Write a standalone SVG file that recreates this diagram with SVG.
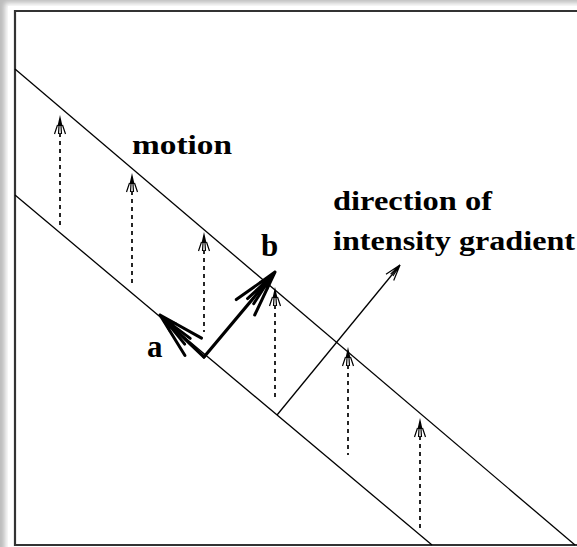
<svg xmlns="http://www.w3.org/2000/svg" width="577" height="547" viewBox="0 0 577 547">
<style>
.ln{stroke:#000;stroke-width:1.3;fill:none}
.dash{stroke:#000;stroke-width:1.7;stroke-dasharray:4 4;fill:none}
.thick{stroke:#000;stroke-width:3.2;fill:none;stroke-linecap:round;stroke-linejoin:round}
.frame{stroke:#333;stroke-width:2.2;fill:none}
.lbl{font-family:"Liberation Serif","Times New Roman",serif;font-weight:bold;fill:#000}
</style>
<defs>
<filter id="blur" x="-5%" y="-5%" width="110%" height="110%"><feGaussianBlur stdDeviation="2.5"/></filter>
<g id="smallHead">
<path d="M0,0 L-2.5,11 L2.5,11 Z" fill="#000"/>
<path d="M-2.5,10 L-5.5,19 M2.5,10 L5.5,19 M-1,11 L-1.5,19 M1,11 L1.5,19" stroke="#000" stroke-width="1.2" fill="none"/>
</g>
<g id="bigHead">
<path d="M0,0 L-18,-6 L-14,0 L-18,6 Z" fill="#000"/>
<path d="M0,0 L-46,-12 M0,0 L-46,12 M-6,0 L-38,-4 M-6,0 L-38,4" stroke="#000" stroke-width="3" stroke-linecap="round" fill="none"/>
</g>
<g id="thinHead">
<path d="M0,0 L-16,-5 M0,0 L-16,5 M0,0 L-13,-1.5 M0,0 L-13,1.5" stroke="#000" stroke-width="1.2" fill="none"/>
</g>
</defs>
<rect width="577" height="547" fill="#bcbcbc"/>
<rect x="5" y="3" width="620" height="600" fill="#fff" filter="url(#blur)"/>
<rect x="8" y="6" width="600" height="600" fill="#fff"/>
<g id="frame">
<path class="frame" d="M577,11 L15,11 L15,545 L577,545"/>
</g>
<g id="edges">
<line id="upper-edge" class="ln" x1="15" y1="69" x2="575" y2="545"/>
<line id="lower-edge" class="ln" x1="15" y1="195" x2="432" y2="545"/>
</g>
<g id="connectors">
<g id="motion-arrows">
<line class="dash" x1="60" y1="133" x2="60" y2="225"/><use href="#smallHead" transform="translate(60,115)"/>
<line class="dash" x1="132" y1="191" x2="132" y2="285"/><use href="#smallHead" transform="translate(132,173)"/>
<line class="dash" x1="204" y1="250" x2="204" y2="332"/><use href="#smallHead" transform="translate(204,232)"/>
<line class="dash" x1="275" y1="305" x2="275" y2="400"/><use href="#smallHead" transform="translate(275,287)"/>
<line class="dash" x1="348" y1="365" x2="348" y2="455"/><use href="#smallHead" transform="translate(348,347)"/>
<line class="dash" x1="420" y1="436" x2="420" y2="530"/><use href="#smallHead" transform="translate(420,418)"/>
</g>
<g id="gradient-arrow">
<line class="ln" x1="277" y1="415" x2="400" y2="265"/>
<use href="#thinHead" transform="translate(400,265) rotate(-50.6)"/>
</g>
<g id="vector-a">
<line class="thick" x1="204" y1="357" x2="165" y2="320"/>
<use href="#bigHead" transform="translate(160,315) rotate(-136.3)"/>
</g>
<g id="vector-b">
<line class="thick" x1="204" y1="357" x2="271" y2="277"/>
<use href="#bigHead" transform="translate(275,272) rotate(-50.1)"/>
</g>
</g>
<g id="label-motion"><text class="lbl" x="132" y="154" font-size="28" textLength="100" lengthAdjust="spacingAndGlyphs">motion</text></g>
<g id="label-direction">
<text class="lbl" x="333" y="210" font-size="28" textLength="159" lengthAdjust="spacingAndGlyphs">direction of</text>
<text class="lbl" x="333" y="250" font-size="28" textLength="242" lengthAdjust="spacingAndGlyphs">intensity gradient</text>
</g>
<g id="label-a"><text class="lbl" x="147" y="357" font-size="31">a</text></g>
<g id="label-b"><text class="lbl" x="261" y="256" font-size="31">b</text></g>
</svg>
